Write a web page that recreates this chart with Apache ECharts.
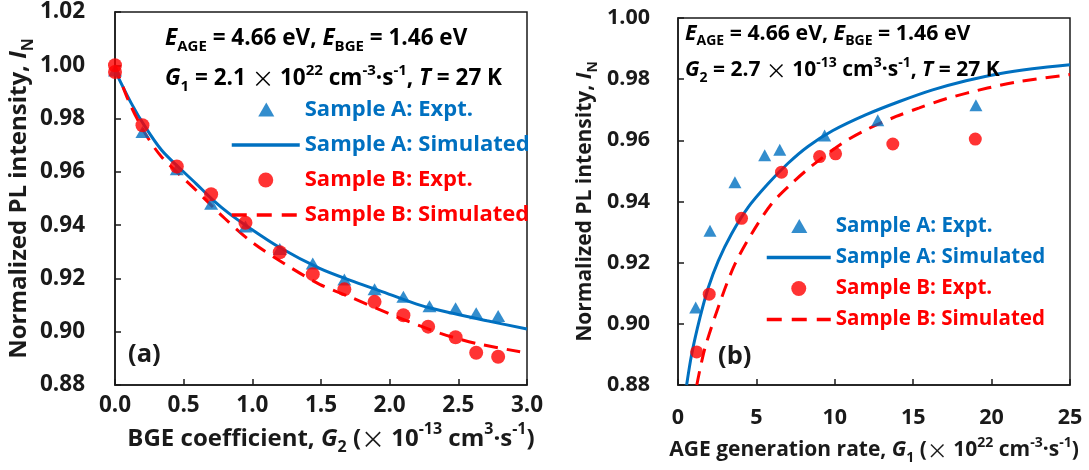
<!DOCTYPE html>
<html>
<head>
<meta charset="utf-8">
<script src="https://cdn.jsdelivr.net/npm/echarts@6/dist/echarts.min.js"></script>
<style>
  html, body { margin: 0; padding: 0; background: #fff; }
  #chart { width: 1089px; height: 470px; }
</style>
</head>
<body>
<div id="chart"></div>
<script>
// Panel (a): PL intensity vs BGE coefficient G2 (x 1e-13 cm^3 s^-1)
const bgeExptA = [[0, 0.998], [0.2, 0.975], [0.45, 0.961], [0.7, 0.948], [0.95, 0.9395], [1.2, 0.931],
  [1.44, 0.9256], [1.67, 0.9196], [1.89, 0.9159], [2.1, 0.9131], [2.29, 0.9096], [2.48, 0.9088],
  [2.63, 0.9069], [2.79, 0.9059]];
const bgeExptB = [[0, 1.0], [0, 0.9975], [0.2, 0.9775], [0.45, 0.962], [0.7, 0.9516], [0.95, 0.9409],
  [1.2, 0.9298], [1.44, 0.9216], [1.67, 0.9159], [1.89, 0.9112], [2.1, 0.9062], [2.28, 0.9019],
  [2.48, 0.8979], [2.63, 0.8921], [2.79, 0.8906]];
const bgeSimA = [[0, 0.998], [0.12, 0.9856], [0.22, 0.9769], [0.34, 0.9681], [0.46, 0.9619], [0.59, 0.9556],
  [0.71, 0.9496], [0.83, 0.9444], [0.95, 0.94], [1.19, 0.9319], [1.49, 0.9238], [1.74, 0.9188],
  [1.98, 0.9144], [2.22, 0.91], [2.46, 0.9069], [2.71, 0.9041], [3.0, 0.901]];
const bgeSimB = [[0, 1.0], [0.1, 0.9865], [0.22, 0.9744], [0.34, 0.9656], [0.59, 0.9531], [0.8, 0.9425],
  [1.0, 0.9335], [1.25, 0.925], [1.49, 0.9178], [1.71, 0.9131], [2.05, 0.9056], [2.37, 0.8994],
  [2.63, 0.8956], [2.95, 0.8925]];

// Panel (b): PL intensity vs AGE generation rate G1 (x 1e22 cm^-3 s^-1)
const ageExptA = [[1.13, 0.9053], [2.04, 0.9304], [3.63, 0.9463], [5.53, 0.9551], [6.49, 0.9569],
  [9.35, 0.9616], [12.74, 0.9666], [19.0, 0.9715]];
const ageExptB = [[1.19, 0.8908], [1.99, 0.9097], [4.05, 0.9345], [6.6, 0.9496], [9.03, 0.9547],
  [10.05, 0.9556], [13.7, 0.9588], [18.96, 0.9604]];
const ageSimA = [[0.55, 0.88], [0.87, 0.89], [1.4, 0.902], [1.93, 0.9118], [2.57, 0.9206], [3.41, 0.9294],
  [4.47, 0.9381], [5.74, 0.9458], [7.02, 0.9525], [8.29, 0.958], [9.88, 0.9632], [12.0, 0.9684],
  [14.12, 0.9727], [16.24, 0.9765], [18.37, 0.9795], [20.48, 0.9818], [22.6, 0.9834], [25, 0.9847]];
const ageSimB = [[1.2, 0.88], [1.72, 0.8921], [2.78, 0.9085], [3.63, 0.9195], [4.69, 0.9294], [5.96, 0.9392],
  [7.23, 0.9458], [8.5, 0.9515], [10.52, 0.9592], [12.1, 0.9637], [13.91, 0.9678], [15.39, 0.9706],
  [17.09, 0.9736], [19.74, 0.9771], [21.86, 0.9793], [25, 0.9815]];

const seriesNames = ['Sample A: Expt.', 'Sample A: Simulated', 'Sample B: Expt.', 'Sample B: Simulated'];
const panelTags = ['(a)', '(b)'];

const BLUE = '#0070C0';
const RED = '#FF0000';
const INK = '#1a1a1a';
const FONT = 'Open Sans';
// legend glyph for the triangle markers (kept at its own aspect ratio)
const TRIANGLE_ICON = 'path://M0,15L0,15M1,14L8.5,1L16,14Z';

function richSet(size) {
  const lh = Math.round(size * 1.4);
  const small = Math.round(size * 0.66);
  return {
    t: { fontFamily: FONT, fontWeight: 'bold', fontSize: size, lineHeight: lh, color: INK },
    i: { fontFamily: FONT, fontWeight: 'bold', fontStyle: 'italic', fontSize: size, lineHeight: lh, color: INK },
    sub: { fontFamily: FONT, fontWeight: 'bold', fontSize: small, verticalAlign: 'bottom', color: INK },
    sup: { fontFamily: FONT, fontWeight: 'bold', fontSize: small, verticalAlign: 'top', color: INK },
    x: { fontFamily: 'Noto Sans CJK SC', fontWeight: 'normal', fontSize: size, lineHeight: lh, color: INK }
  };
}

const chart = echarts.init(document.getElementById('chart'), null, { renderer: 'canvas' });

function axisCommon() {
  return {
    axisLine: { show: true, onZero: false, lineStyle: { color: INK, width: 1.5 } },
    axisTick: { show: true, inside: true, length: 6, lineStyle: { color: INK, width: 1.5 } },
    splitLine: { show: false }
  };
}

function tickLabels(margin, size, digits) {
  return { margin, fontFamily: FONT, fontWeight: 'bold', fontSize: size, color: INK,
    formatter: v => (digits == null ? String(v) : v.toFixed(digits)) };
}

function scatter(name, data, idx, symbol, color, size) {
  return { name, type: 'scatter', xAxisIndex: idx, yAxisIndex: idx, data, symbol, symbolSize: size,
    itemStyle: { color }, z: symbol === 'circle' ? 4 : 3 };
}
function curve(name, data, idx, color, dashed) {
  return { name, type: 'line', xAxisIndex: idx, yAxisIndex: idx, data, smooth: 0.3, symbol: 'none', showSymbol: false,
    lineStyle: { color, width: 3, type: dashed ? [14, 9] : 'solid' }, itemStyle: { color }, z: 2 };
}

function legendFor(left, top, gap, itemWidth, size) {
  const items = [
    { name: seriesNames[0], icon: TRIANGLE_ICON, textStyle: { color: BLUE } },
    { name: seriesNames[1], itemStyle: { opacity: 0 }, lineStyle: { width: 3.5, type: 'solid' }, textStyle: { color: BLUE } },
    { name: seriesNames[2], icon: 'circle', textStyle: { color: RED } },
    { name: seriesNames[3], itemStyle: { opacity: 0 }, lineStyle: { width: 3.5, type: [15, 10] }, textStyle: { color: RED } }
  ];
  return {
    left, top, orient: 'vertical', itemWidth, itemHeight: 15, itemGap: gap, selectedMode: false,
    symbolKeepAspect: true, data: items,
    textStyle: { fontFamily: FONT, fontWeight: 'bold', fontSize: size }
  };
}

const option = {
  animation: false,
  backgroundColor: '#fff',
  grid: [
    { left: 115, top: 12, width: 412, height: 373, show: true, borderColor: INK, borderWidth: 1.5, containLabel: false },
    { left: 678, top: 18, width: 392, height: 367, show: true, borderColor: INK, borderWidth: 1.5, containLabel: false }
  ],
  xAxis: [
    Object.assign(axisCommon(), {
      gridIndex: 0, type: 'value', min: 0, max: 3, interval: 0.5,
      axisLabel: tickLabels(9, 22.5, 1),
      name: '{t|BGE coefficient, }{i|G}{sub|2}{t| (}{x|×}{t| 10}{sup|-13}{t| cm}{sup|3}{t|·s}{sup|-1}{t|)}',
      nameLocation: 'middle', nameGap: 9,
      nameTextStyle: { rich: richSet(24), padding: [0, 0, 0, 20] }
    }),
    Object.assign(axisCommon(), {
      gridIndex: 1, type: 'value', min: 0, max: 25, interval: 5,
      axisLabel: tickLabels(22, 21.5, null),
      name: '{t|AGE generation rate, }{i|G}{sub|1}{t| (}{x|×}{t| 10}{sup|22}{t| cm}{sup|-3}{t|·s}{sup|-1}{t|)}',
      nameLocation: 'middle', nameGap: 51,
      nameTextStyle: { rich: richSet(21) }
    })
  ],
  yAxis: [
    Object.assign(axisCommon(), {
      gridIndex: 0, type: 'value', min: 0.88, max: 1.02, interval: 0.02,
      axisLabel: tickLabels(30, 22.5, 2),
      name: '{t|Normalized PL intensity, }{i|I}{sub|N}',
      nameLocation: 'middle', nameGap: 74,
      nameTextStyle: { rich: richSet(24) }
    }),
    Object.assign(axisCommon(), {
      gridIndex: 1, type: 'value', min: 0.88, max: 1.0, interval: 0.02,
      axisLabel: tickLabels(28, 21.5, 2),
      name: '{t|Normalized PL intensity, }{i|I}{sub|N}',
      nameLocation: 'middle', nameGap: 78,
      nameTextStyle: { rich: richSet(21) }
    })
  ],
  legend: [
    legendFor(225, 94, 13, 68, 22),
    legendFor(760, 211, 10, 64, 20.5)
  ],
  series: [
    curve(seriesNames[1], bgeSimA, 0, BLUE, false),
    curve(seriesNames[3], bgeSimB, 0, RED, true),
    scatter(seriesNames[0], bgeExptA, 0, 'triangle', BLUE, [14, 12]),
    scatter(seriesNames[2], bgeExptB, 0, 'circle', RED, 14),
    curve(seriesNames[1], ageSimA, 1, BLUE, false),
    curve(seriesNames[3], ageSimB, 1, RED, true),
    scatter(seriesNames[0], ageExptA, 1, 'triangle', BLUE, [13, 12]),
    scatter(seriesNames[2], ageExptB, 1, 'circle', RED, 13)
  ],
  graphic: [
    { type: 'text', left: 165, top: 27, z: 10, style: {
      text: '{i|E}{sub|AGE}{t| = 4.66 eV, }{i|E}{sub|BGE}{t| = 1.46 eV}', rich: richSet(22.5) } },
    { type: 'text', left: 165, top: 63, z: 10, style: {
      text: '{i|G}{sub|1}{t| = 2.1 }{x|×}{t| 10}{sup|22}{t| cm}{sup|-3}{t|·s}{sup|-1}{t|, }{i|T}{t| = 27 K}', rich: richSet(22.5) } },
    { type: 'text', left: 685, top: 23, z: 10, style: {
      text: '{i|E}{sub|AGE}{t| = 4.66 eV, }{i|E}{sub|BGE}{t| = 1.46 eV}', rich: richSet(21.3) } },
    { type: 'text', left: 685, top: 56, z: 10, style: {
      text: '{i|G}{sub|2}{t| = 2.7 }{x|×}{t| 10}{sup|-13}{t| cm}{sup|3}{t|·s}{sup|-1}{t|, }{i|T}{t| = 27 K}', rich: richSet(21) } },
    { type: 'text', left: 128, top: 342, z: 10, style: {
      text: panelTags[0], fontFamily: FONT, fontWeight: 'bold', fontSize: 25.5, fill: INK } },
    { type: 'text', left: 718, top: 344, z: 10, style: {
      text: panelTags[1], fontFamily: FONT, fontWeight: 'bold', fontSize: 25.5, fill: INK } }
  ]
};

chart.setOption(option);
</script>
</body>
</html>
